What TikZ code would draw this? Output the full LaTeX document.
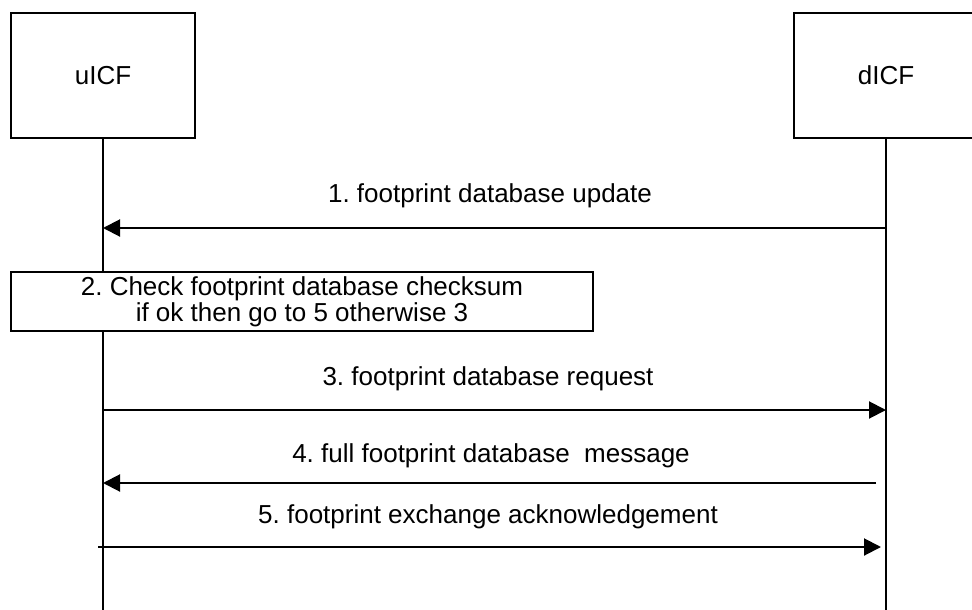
\documentclass[tikz,border=0pt]{standalone}
\usepackage{fontspec}
\setmainfont{Liberation Sans}
\usetikzlibrary{arrows.meta}
\frenchspacing

\begin{document}
\begin{tikzpicture}[x=1pt,y=-1pt,font=\fontsize{26}{26}\selectfont,
  entity/.style={draw,line width=2.5pt,minimum width=184pt,minimum height=125pt,inner sep=0pt},
  life/.style={line width=2pt},
  msg/.style={line width=2pt,-{Triangle[length=17pt,width=17pt]}},
  lbl/.style={anchor=base,inner sep=0pt}]
\useasboundingbox (0,0) rectangle (972,610);
\clip (0,0) rectangle (972,610);
\node[entity] (U) at (103,75.5) {uICF};
\node[entity] (D) at (886,75.5) {dICF};
\coordinate (Ue) at (103,610); \coordinate (De) at (886,610);
\draw[life] (U.south) -- (Ue); \draw[life] (D.south) -- (De);
\foreach \n/\y in {1/228,3/410,4/483,5/547}{
  \coordinate (u\n) at (103,\y); \coordinate (d\n) at (886,\y);}
\node[draw,fill=white,line width=2.5pt,minimum width=582pt,minimum height=59pt,
  inner sep=0pt,align=center] (C) at (302,301.5)
  {2. Check footprint database checksum\\if ok then go to 5 otherwise 3};
\draw[msg] (d1) -- (u1); \node[lbl] (m1) at (490,202) {1. footprint database update};
\draw[msg] (u3) -- (d3); \node[lbl] (m3) at (488,385) {3. footprint database request};
\draw[msg] ([xshift=-10pt]d4) -- (u4); \node[lbl] (m4) at (491,462) {4. full footprint database\ \ message};
\draw[msg] ([xshift=-5pt]u5) -- ([xshift=-5pt]d5); \node[lbl] (m5) at (488,523) {5. footprint exchange acknowledgement};
\end{tikzpicture}
\end{document}
